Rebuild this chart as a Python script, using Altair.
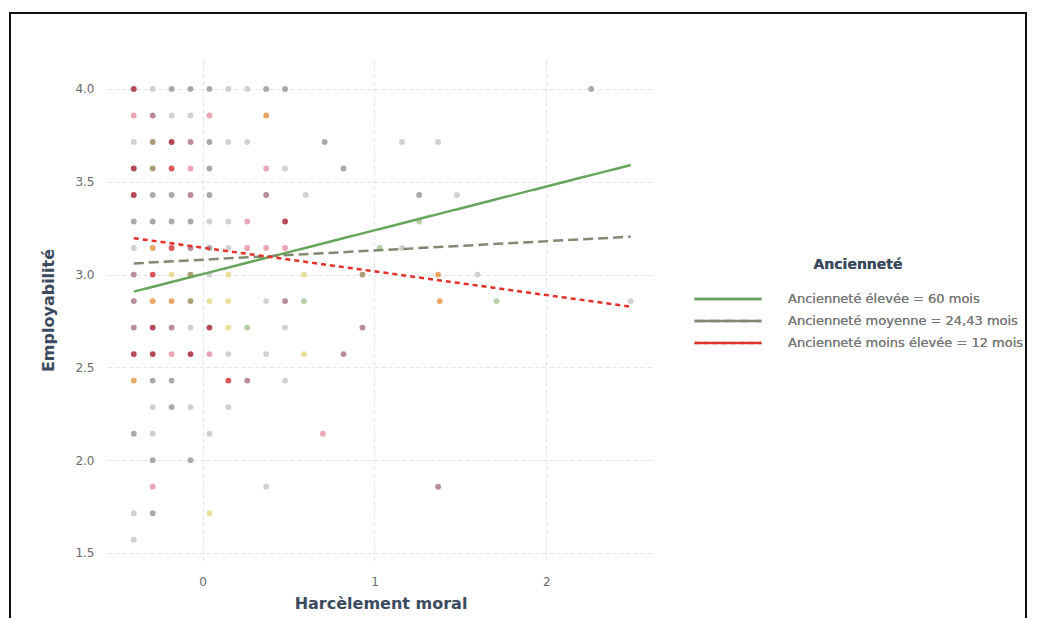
import altair as alt
import pandas as pd

# ---------------- data ----------------
# scatter points: rows of Employabilité (multiples of 1/7), x = Harcèlement moral
row_y = [4.0, 27/7, 26/7, 25/7, 24/7, 23/7, 22/7, 3.0, 20/7, 19/7, 18/7, 17/7, 16/7, 15/7, 2.0, 13/7, 12/7, 11/7]
row_points = [
    [(-0.40, "rf"), (-0.29, "gc"), (-0.18, "g"), (-0.07, "g"), (0.04, "g"), (0.15, "gc"), (0.26, "gc"), (0.37, "g"), (0.48, "g"), (2.26, "g")],
    [(-0.40, "p"), (-0.29, "m"), (-0.18, "gc"), (-0.07, "gc"), (0.04, "p"), (0.37, "o")],
    [(-0.40, "gc"), (-0.29, "ol"), (-0.18, "rf"), (-0.07, "m"), (0.04, "g"), (0.15, "gc"), (0.26, "gc"), (0.71, "g"), (1.16, "gc"), (1.37, "gc")],
    [(-0.40, "rf"), (-0.29, "ol"), (-0.18, "r"), (-0.07, "p"), (0.04, "g"), (0.37, "p"), (0.48, "gc"), (0.82, "g")],
    [(-0.40, "rf"), (-0.29, "g"), (-0.18, "g"), (-0.07, "m"), (0.04, "g"), (0.37, "m"), (0.60, "gc"), (1.26, "g"), (1.48, "gc")],
    [(-0.40, "g"), (-0.29, "g"), (-0.18, "g"), (-0.07, "g"), (0.04, "gc"), (0.15, "gc"), (0.26, "p"), (0.48, "rf"), (1.26, "v")],
    [(-0.40, "gc"), (-0.29, "o"), (-0.18, "r"), (-0.07, "m"), (0.04, "g"), (0.15, "gc"), (0.26, "p"), (0.37, "p"), (0.48, "p"), (1.03, "v"), (1.16, "gc")],
    [(-0.40, "m"), (-0.29, "r"), (-0.18, "y"), (-0.07, "ol"), (0.04, "gc"), (0.15, "y"), (0.59, "y"), (0.93, "ol"), (1.37, "o"), (1.60, "gc")],
    [(-0.40, "m"), (-0.29, "o"), (-0.18, "o"), (-0.07, "ol"), (0.04, "y"), (0.15, "y"), (0.37, "gc"), (0.48, "m"), (0.59, "v"), (1.38, "o"), (1.71, "v"), (2.49, "gc")],
    [(-0.40, "m"), (-0.29, "rf"), (-0.18, "m"), (-0.07, "gc"), (0.04, "rf"), (0.15, "y"), (0.26, "v"), (0.48, "gc"), (0.93, "m")],
    [(-0.40, "rf"), (-0.29, "rf"), (-0.18, "p"), (-0.07, "rf"), (0.04, "p"), (0.15, "gc"), (0.37, "gc"), (0.59, "y"), (0.82, "m")],
    [(-0.40, "o"), (-0.29, "g"), (-0.18, "g"), (0.15, "r"), (0.26, "m"), (0.48, "gc")],
    [(-0.29, "gc"), (-0.18, "g"), (-0.07, "gc"), (0.15, "gc")],
    [(-0.40, "g"), (-0.29, "gc"), (0.04, "gc"), (0.70, "p")],
    [(-0.29, "g"), (-0.07, "g")],
    [(-0.29, "p"), (0.37, "gc"), (1.37, "m")],
    [(-0.40, "gc"), (-0.29, "g"), (0.04, "y")],
    [(-0.40, "gc")],
]
tone_names = ["rf", "r", "p", "m", "g", "gc", "o", "y", "ol", "v"]
tone_colors = ["#a8283c", "#d63a3a", "#e896a8", "#ad7884", "#9a9a9a", "#c9c9c9", "#e8964a", "#e6da8c", "#9e8c5c", "#a8c898"]

# regression lines (simple slopes)
series = ["Ancienneté élevée = 60 mois", "Ancienneté moyenne = 24,43 mois", " Ancienneté moins élevée = 12 mois"]
line_x = [-0.40, 2.49]
line_y = [[2.908, 3.590], [3.060, 3.204], [3.196, 2.827]]
line_colors = ["#66a55a", "#7f8a70", "#e6302a"]
line_dash = [[1, 0], [10, 5], [5, 4]]

x_ticks = [0, 1, 2]
y_ticks = [1.5, 2.0, 2.5, 3.0, 3.5, 4.0]

# ---------------- tables ----------------
pts = pd.DataFrame(
    [{"x": x, "y": y, "tone": t} for y, row in zip(row_y, row_points) for x, t in row]
)
lines = pd.DataFrame(
    [{"x": x, "y": yv, "serie": s} for s, ys in zip(series, line_y) for x, yv in zip(line_x, ys)]
)

xscale = alt.Scale(domain=[-0.55, 2.62], nice=False, zero=False)
yscale = alt.Scale(domain=[1.462, 4.156], nice=False, zero=False)

TITLE_COLOR = "#3b4a5e"
LABEL_COLOR = "#6a6a6a"

xaxis = alt.Axis(values=x_ticks, format="d", title="Harcèlement moral", domain=False, ticks=False,
                 labelPadding=16, titlePadding=8, grid=True, gridDash=[4, 3], gridColor="#e3e3e3",
                 labelFontSize=12, labelColor=LABEL_COLOR, titleFontSize=16, titleFontWeight="bold",
                 titleColor=TITLE_COLOR, labelFont="DejaVu Sans", titleFont="DejaVu Sans")
yaxis = alt.Axis(values=y_ticks, format=".1f", title="Employabilité", domain=False, ticks=False,
                 labelPadding=14, titlePadding=18, grid=True, gridDash=[4, 3], gridColor="#e3e3e3",
                 labelFontSize=12, labelColor=LABEL_COLOR, titleFontSize=16, titleFontWeight="bold",
                 titleColor=TITLE_COLOR, labelFont="DejaVu Sans", titleFont="DejaVu Sans")

points = alt.Chart(pts).mark_circle(size=34, opacity=0.85).encode(
    x=alt.X("x:Q", scale=xscale, axis=xaxis),
    y=alt.Y("y:Q", scale=yscale, axis=yaxis),
    color=alt.Color("tone:N", scale=alt.Scale(domain=tone_names, range=tone_colors), legend=None),
)

legend = alt.Legend(
    title="Ancienneté", orient="none", legendX=585, legendY=198,
    symbolType="stroke", symbolSize=4489, symbolStrokeWidth=2.5, labelOffset=25,
    clipHeight=20, rowPadding=2,
    titleFontSize=14, titleFont="DejaVu Sans", titleFontWeight="bold", titleColor=TITLE_COLOR,
    titleAnchor="middle", titlePadding=17, labelFontSize=13, labelFont="DejaVu Sans",
    labelColor="#777777", labelLimit=400,
)

reg = alt.Chart(lines).mark_line(strokeWidth=2.5).encode(
    x="x:Q",
    y="y:Q",
    color=alt.Color("serie:N", scale=alt.Scale(domain=series, range=line_colors), legend=legend),
    strokeDash=alt.StrokeDash("serie:N", scale=alt.Scale(domain=series, range=line_dash), legend=legend),
)

frame = alt.Chart(pd.DataFrame({"k": [0]})).mark_rect(filled=False, stroke="#111111", strokeWidth=2).encode(
    x=alt.value(-98), x2=alt.value(918), y=alt.value(-47), y2=alt.value(640)
)

chart = alt.layer(points, reg, frame).resolve_scale(color="independent").properties(
    width=545, height=500,
    background="white",
    autosize=alt.AutoSizeParams(type="none"),
    padding={"left": 100, "top": 52, "right": 375, "bottom": 58},
).configure_view(strokeWidth=0, stroke="transparent")

chart.save("out.html", embed_options={"renderer": "svg", "actions": False})
